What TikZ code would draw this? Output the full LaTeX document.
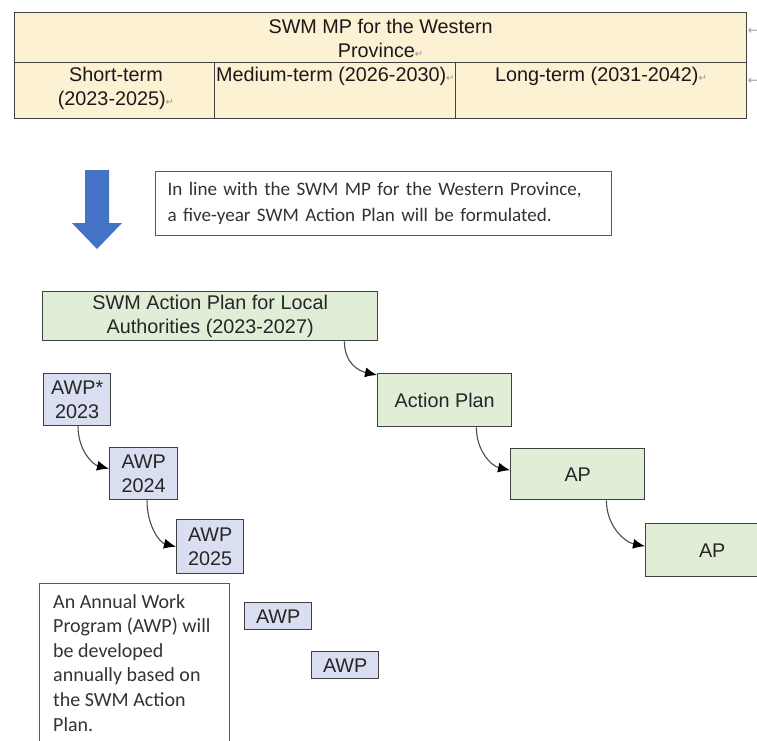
\documentclass[tikz,border=0pt]{standalone}
\usepackage{fontspec}
\setmainfont{Liberation Sans}
\newfontfamily\calibri{Carlito}
\newfontfamily\markfont{DejaVu Sans}
\usetikzlibrary{arrows.meta}
\definecolor{tablefill}{HTML}{FDF1D3}
\definecolor{greenfill}{HTML}{E0EDD7}
\definecolor{bluefill}{HTML}{D9DFF0}
\definecolor{boxline}{HTML}{404040}
\definecolor{arrowblue}{HTML}{4472C4}
\definecolor{markgray}{HTML}{9A9A9A}
\newcommand{\cellmark}{{\markfont\fontsize{10}{10}\selectfont\textcolor{markgray}{↵}}}

\begin{document}
\begin{tikzpicture}[x=1pt, y=-1pt,
  cell/.style={draw=boxline, line width=1.2pt, fill=tablefill, inner sep=0pt,
               anchor=north west},
  celltext/.style={font=\fontsize{19.8}{24}\selectfont, inner sep=0pt,
                   align=center, text=black!90},
  greenbox/.style={draw=boxline, line width=1.4pt, fill=greenfill, inner sep=0pt,
                   anchor=north west, align=center, text=black!85,
                   font=\fontsize{19.8}{24.5}\selectfont},
  awpbox/.style={greenbox, fill=bluefill},
  notebox/.style={draw=black!65, line width=1.2pt, fill=white, anchor=north west,
                  align=left, text=black!80, font=\calibri\fontsize{19.1}{26}\selectfont},
  rowmark/.style={font=\markfont\fontsize{12}{12}\selectfont, text=markgray, inner sep=0pt},
  flow/.style={line width=1.1pt, black!70, -{Latex[length=12pt, width=10pt, color=black]}},
]
\useasboundingbox (0,0) rectangle (757,740);

\node[cell, minimum width=732pt, minimum height=50pt] (mp) at (14,12) {};
\node[cell, minimum width=200pt, minimum height=56pt] (short) at (14,62) {};
\node[cell, minimum width=241pt, minimum height=56pt] (medium) at (214,62) {};
\node[cell, minimum width=291pt, minimum height=56pt] (long) at (455,62) {};

\node[celltext] (mptext) at ([yshift=-1pt]mp.center) {SWM MP for the Western\\Province\cellmark};
\node[celltext] (shorttext) at (116,88) {Short-term\\(2023-2025)\cellmark};
\node[celltext, anchor=west] (mediumtext) at (216,76) {Medium-term (2026-2030)\cellmark};
\node[celltext] (longtext) at (601,76) {Long-term (2031-2042)\cellmark};
\node[rowmark] (rowmark1) at (753,31) {←};
\node[rowmark] (rowmark2) at (753,81) {←};

\fill[arrowblue] (85,170) -- (109,170) -- (109,223) -- (122,223) -- (97,249)
  -- (72,223) -- (85,223) -- cycle;

\node[notebox, text width=432pt, inner xsep=12pt, minimum height=64pt] (plannote)
  at (155,171) {In line with the SWM MP for the Western Province,\\
  a five-year SWM Action Plan will be formulated.};

\node[greenbox, minimum width=335pt, minimum height=49pt] (sap) at (42,291)
  {SWM Action Plan for Local\\Authorities (2023-2027)};
\node[greenbox, minimum width=134pt, minimum height=53pt] (action) at (377,373) {Action Plan};
\node[greenbox, minimum width=134pt, minimum height=51pt] (ap1) at (510,448) {AP};
\node[greenbox, minimum width=133pt, minimum height=53pt] (ap2) at (645,523) {AP};

\node[awpbox, minimum width=67pt, minimum height=52pt] (awp23) at (43,373) {AWP*\\2023};
\node[awpbox, minimum width=68pt, minimum height=52pt] (awp24) at (109,447) {AWP\\2024};
\node[awpbox, minimum width=67pt, minimum height=54pt] (awp25) at (176,519) {AWP\\2025};
\node[awpbox, minimum width=67pt, minimum height=27pt] (awp26) at (244,602) {AWP};
\node[awpbox, minimum width=67pt, minimum height=27pt] (awp27) at (311,651) {AWP};

\node[notebox, minimum width=190pt, minimum height=172pt] (awpnote) at (39,583) {};
\node[anchor=north west, inner sep=0pt, align=left, text=black!80,
      font=\calibri\fontsize{20}{24.6}\selectfont] (awpnotetext)
  at ([xshift=14pt, yshift=-11pt]awpnote.north west)
  {An Annual Work\\Program (AWP) will\\be developed\\annually based on\\the SWM Action\\Plan.};

\draw[flow] ([xshift=-34pt]sap.south east) .. controls +(0,22) and +(-18,-4) .. ([yshift=-2pt]action.north west);
\draw[flow] ([xshift=35pt]awp23.south west) .. controls +(0,24) and +(-16,-4) .. ([yshift=5pt]awp24.west);
\draw[flow] ([xshift=38pt]awp24.south west) .. controls +(0,26) and +(-16,-4) .. (awp25.west);
\draw[flow] ([xshift=-36pt]action.south east) .. controls +(0,24) and +(-18,-4) .. ([yshift=4pt]ap1.west);
\draw[flow] ([xshift=-39pt]ap1.south east) .. controls +(0,26) and +(-20,-4) .. ([yshift=4pt]ap2.west);

\end{tikzpicture}
\end{document}
